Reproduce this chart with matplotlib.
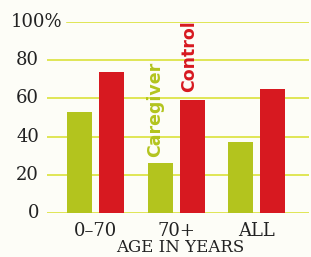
import matplotlib
matplotlib.use("Agg")
import matplotlib.pyplot as plt
import numpy as np

# values (percent)
groups = ["0–70", "70+", "ALL"]
caregiver = [53, 26, 37]
control = [74, 59, 65]
yticks = [0, 20, 40, 60, 80]

W, H = 311, 257
fig = plt.figure(figsize=(W / 100, H / 100), dpi=100)
fig.patch.set_facecolor("#fdfdf7")

# axes placed in pixel coordinates: x 47..309, y 22 (100%) .. 213 (0)
left, right, top, bottom = 47, 309, 22, 213
ax = fig.add_axes([left / W, (H - bottom) / H, (right - left) / W, (bottom - top) / H])
ax.set_facecolor("none")

px = 80.5  # pixels per group
x = np.arange(len(groups))
ax.set_xlim((left - 95.5) / px, (right - 95.5) / px)
ax.set_ylim(0, 100)

green = "#b3c41e"
red = "#d71920"
grid = "#dbe23a"
ink = "#222222"

for y in yticks:
    ax.axhline(y, color=grid, lw=1.2, zorder=1)
ax.axhline(100, xmin=(67 - left) / (right - left), color=grid, lw=1.2, zorder=1)

w = 25 / px
off = 16 / px
ax.bar(x - off, caregiver, w, color=green, zorder=2)
ax.bar(x + off, control, w, color=red, zorder=2)

for s in ax.spines.values():
    s.set_visible(False)
ax.set_xticks([])
ax.set_yticks([])

serif = "DejaVu Serif"
for y in yticks:
    ax.text((39 - 95.5) / px, y, str(y), ha="right", va="center",
            fontsize=13, family=serif, color=ink)
ax.text((62 - 95.5) / px, 100, "100%", ha="right", va="center",
        fontsize=13, family=serif, color=ink)

for i, g in enumerate(groups):
    ax.text(i, -4.5, g, ha="center", va="top", fontsize=13, family=serif, color=ink)
fig.text(180 / W, 1 - 247 / H, "AGE IN YEARS", ha="center", va="center",
         fontsize=12, family=serif, color=ink)

narrow = ["Liberation Sans Narrow", "DejaVu Sans"]
ax.text((155 - 95.5) / px, (213 - 109) / 1.91, "Caregiver", rotation=90,
        ha="center", va="center", fontsize=12.5, fontweight="bold",
        family=narrow, color=green)
ax.text((189 - 95.5) / px, (213 - 56) / 1.91, "Control", rotation=90,
        ha="center", va="center", fontsize=12.5, fontweight="bold",
        family=narrow, color=red)

fig.savefig("out.png", dpi=100, facecolor=fig.get_facecolor())
